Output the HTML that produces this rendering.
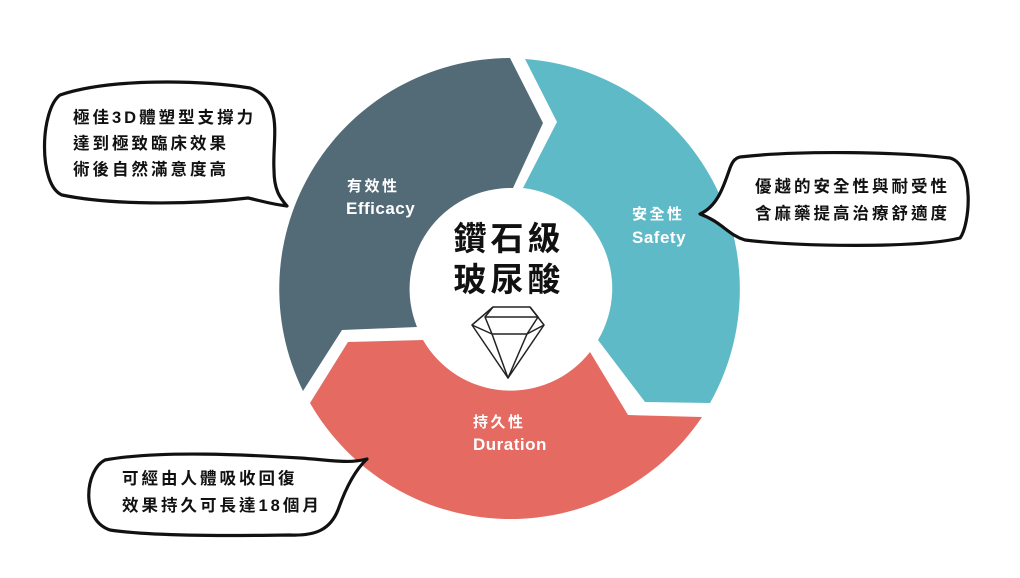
<!DOCTYPE html>
<html><head><meta charset="utf-8"><style>
body{margin:0;background:#fff;}
svg{display:block}
text{font-family:"Liberation Sans","Noto Sans CJK TC",sans-serif;font-weight:bold}
</style></head><body>
<svg width="1020" height="578" viewBox="0 0 1020 578" xmlns="http://www.w3.org/2000/svg">
<path d="M510,58 A231,231 0 0 0 303,391 L342,330 L417,327 A101,101 0 0 1 513,188 L543,123 Z" fill="#536a77"/>
<path d="M525,59 A231,231 0 0 1 710,403 L645,402 L598,340 A101,101 0 0 0 523,188 L557,122 Z" fill="#5fbac8"/>
<path d="M702,417 A231,231 0 0 1 310,403 L348,342 L423,340 A101,101 0 0 0 590,352 L628,415 Z" fill="#e46a62"/>
<circle cx="510" cy="289" r="99" fill="#fff"/>

<text x="347" y="191" fill="#fff" font-size="15" letter-spacing="2.5">有效性</text>
<text x="346" y="214" fill="#fff" font-size="17" letter-spacing="0.5">Efficacy</text>
<text x="632" y="219" fill="#fff" font-size="15" letter-spacing="2.5">安全性</text>
<text x="632" y="243" fill="#fff" font-size="17" letter-spacing="0.5">Safety</text>
<text x="473" y="427" fill="#fff" font-size="15" letter-spacing="2.5">持久性</text>
<text x="473" y="450" fill="#fff" font-size="17" letter-spacing="0.5">Duration</text>

<text x="509" y="250" fill="#111" font-size="33" text-anchor="middle" letter-spacing="4">鑽石級</text>
<text x="509" y="291" fill="#111" font-size="33" text-anchor="middle" letter-spacing="4">玻尿酸</text>

<g fill="none" stroke="#222" stroke-width="1.5" stroke-linejoin="round">
<path d="M493,307 L530,307 L544,325 L508,378 L472,325 Z"/>
<path d="M485,317 L538,317"/>
<path d="M493,307 L485,317 L492,334 L527,334 L538,317 L530,307"/>
<path d="M472,325 L492,334 L508,378 L527,334 L544,325"/>
</g>

<g fill="#fff" stroke="#111" stroke-width="3.2" stroke-linejoin="round" stroke-linecap="round">
<path d="M60,95 C110,78 200,80 250,88 C285,100 272,140 274,170 C274,190 280,198 287,206 C270,204 258,200 248,198 C190,205 110,205 62,195 C38,185 40,110 60,95 Z"/>
<path d="M740,157 C800,150 900,152 950,158 C975,165 970,225 960,238 C920,248 800,247 745,240 C728,235 722,222 700,214 C718,206 724,185 730,168 C733,160 736,158 740,157 Z"/>
<path d="M105,460 C160,450 250,455 300,458 C330,460 348,464 367,459 C355,470 345,490 338,510 C330,530 315,536 290,535 C220,536 150,536 110,530 C80,520 85,470 105,460 Z"/>
</g>

<g fill="#111" font-size="16.5" letter-spacing="3">
<text x="73" y="123">極佳3D體塑型支撐力</text>
<text x="73" y="149">達到極致臨床效果</text>
<text x="73" y="175">術後自然滿意度高</text>
<text x="755" y="192">優越的安全性與耐受性</text>
<text x="755" y="219">含麻藥提高治療舒適度</text>
<text x="122" y="484">可經由人體吸收回復</text>
<text x="122" y="511">效果持久可長達18個月</text>
</g>
</svg>
</body></html>
